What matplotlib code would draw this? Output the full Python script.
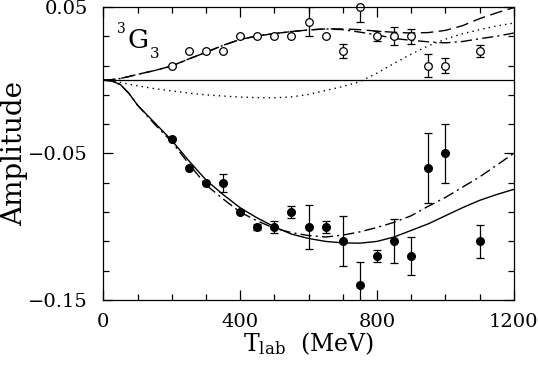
import matplotlib
matplotlib.use("Agg")
import matplotlib.pyplot as plt

plt.rcParams['font.family'] = 'serif'
plt.rcParams['font.serif'] = ['DejaVu Serif']
plt.rcParams['mathtext.fontset'] = 'dejavuserif'

# data points, open circles (upper set)
t_open = [200, 250, 300, 350, 400, 450, 500, 550, 600, 650, 700, 750, 800, 850, 900, 950, 1000, 1100]
a_open = [0.01, 0.02, 0.02, 0.02, 0.03, 0.03, 0.03, 0.03, 0.04, 0.03, 0.02, 0.05, 0.03, 0.03, 0.03, 0.01, 0.01, 0.02]
e_open = [0, 0, 0, 0, 0, 0, 0, 0, 0.01, 0, 0.005, 0.01, 0.0035, 0.006, 0.005, 0.008, 0.005, 0.004]

# data points, filled circles (lower set)
t_full = [200, 250, 300, 350, 400, 450, 500, 550, 600, 650, 700, 750, 800, 850, 900, 950, 1000, 1100]
a_full = [-0.04, -0.06, -0.07, -0.07, -0.09, -0.10, -0.10, -0.09, -0.10, -0.10, -0.11, -0.14, -0.12, -0.11, -0.12, -0.06, -0.05, -0.11]
e_full = [0, 0, 0, 0.006, 0, 0.002, 0.004, 0.004, 0.015, 0.004, 0.017, 0.016, 0.004, 0.015, 0.013, 0.024, 0.02, 0.011]

# model curves, all on the same energy grid
t_curve = [0, 25, 50, 75, 100, 150, 200, 250, 300, 350, 400, 450, 500, 550, 600, 650, 700,
           750, 800, 850, 900, 950, 1000, 1050, 1100, 1150, 1200]
a_solid = [0, -0.0005, -0.003, -0.009, -0.017, -0.029, -0.041, -0.055, -0.068, -0.078, -0.087,
           -0.094, -0.100, -0.105, -0.108, -0.110, -0.111, -0.1112, -0.110, -0.107, -0.1025,
           -0.098, -0.0925, -0.087, -0.082, -0.078, -0.0745]
a_dd_low = [0, -0.0005, -0.003, -0.009, -0.017, -0.030, -0.042, -0.057, -0.0714, -0.081, -0.090,
            -0.096, -0.101, -0.104, -0.106, -0.107, -0.1057, -0.1035, -0.1005, -0.097, -0.0925,
            -0.086, -0.080, -0.073, -0.066, -0.058, -0.0499]
a_dot = [0, -0.0002, -0.0015, -0.0027, -0.0038, -0.0058, -0.0073, -0.0088, -0.0100, -0.0108,
         -0.0115, -0.0119, -0.0120, -0.0114, -0.0097, -0.0070, -0.0043, -0.0010, 0.0048, 0.0115,
         0.0178, 0.0235, 0.0280, 0.0317, 0.0345, 0.0370, 0.0390]
a_dash = [0, 0.0004, 0.0012, 0.0025, 0.004, 0.0066, 0.0097, 0.0145, 0.019, 0.0238, 0.0278,
          0.0302, 0.0318, 0.0332, 0.0343, 0.035, 0.035, 0.0345, 0.0335, 0.0327, 0.0322, 0.0325,
          0.034, 0.0372, 0.042, 0.046, 0.0495]
a_dd_up = [0, 0.0004, 0.0012, 0.0025, 0.004, 0.0066, 0.0097, 0.0145, 0.019, 0.0238, 0.0278,
           0.0302, 0.0318, 0.0332, 0.0343, 0.035, 0.0345, 0.0328, 0.0309, 0.0285, 0.0272, 0.0262,
           0.0255, 0.0264, 0.0283, 0.030, 0.0322]

fig = plt.figure(figsize=(5.38, 3.65), dpi=100)
ax = fig.add_axes([0.192, 0.178, 0.763, 0.803])

ax.axhline(0, color='black', lw=0.9)
ax.plot(t_curve, a_solid, color='black', lw=1.0)
ax.plot(t_curve, a_dd_low, color='black', lw=1.0, dashes=[8, 3, 1.5, 3])
ax.plot(t_curve, a_dot, color='black', lw=1.0, dashes=[1, 3])
ax.plot(t_curve, a_dash, color='black', lw=1.0, dashes=[9, 4])
ax.plot(t_curve, a_dd_up, color='black', lw=1.0, dashes=[8, 3, 1.5, 3])

ax.errorbar(t_full, a_full, yerr=e_full, fmt='o', color='black', ms=5.5,
            capsize=3, elinewidth=0.9, capthick=0.9)
ax.errorbar(t_open, a_open, yerr=e_open, fmt='none', ecolor='black',
            capsize=3, elinewidth=0.9, capthick=0.9)
ax.plot(t_open, a_open, 'o', mfc='white', mec='black', ms=5.5, mew=0.9, clip_on=False)

# partial wave label 3G3
ax.text(40, 0.032, '3', fontsize=10, va='baseline')
ax.text(70, 0.0218, 'G', fontsize=19, va='baseline')
ax.text(135, 0.015, '3', fontsize=11, va='baseline')

ax.set_xlim(0, 1200)
ax.set_ylim(-0.15, 0.05)
ax.set_xticks([0, 400, 800, 1200])
ax.set_xticklabels(['0', '400', '800', '1200'])
ax.set_xticks(range(100, 1200, 100), minor=True)
ax.set_yticks([-0.15, -0.05, 0.05])
ax.set_yticklabels(['\u22120.15', '\u22120.05', '0.05'])
ax.set_yticks([-0.13, -0.11, -0.09, -0.07, -0.03, -0.01, 0.01, 0.03], minor=True)
ax.tick_params(which='both', direction='in', top=True, right=True, labelsize=14, width=0.9)
ax.tick_params(which='major', length=7)
ax.tick_params(which='minor', length=4)
ax.tick_params(axis='x', pad=9)
ax.tick_params(axis='y', pad=11)
for s in ax.spines.values():
    s.set_linewidth(0.9)

ax.set_xlabel(r'T$_{\mathrm{lab}}$  (MeV)', fontsize=17, labelpad=0)
ax.set_ylabel('Amplitude', fontsize=20, labelpad=0)

fig.savefig('out.png', dpi=100)
